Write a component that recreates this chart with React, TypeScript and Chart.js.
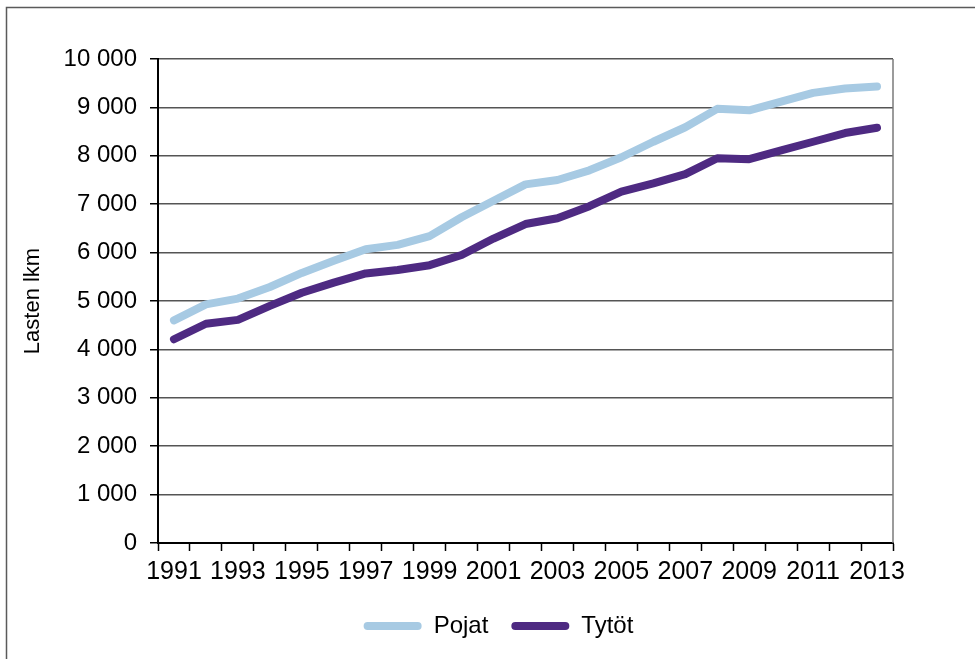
import React, { useEffect, useRef } from "react";
import { Chart, registerables } from "chart.js";

Chart.register(...registerables);

const years = ["1991","1992","1993","1994","1995","1996","1997","1998","1999","2000","2001","2002","2003","2004","2005","2006","2007","2008","2009","2010","2011","2012","2013"];
const pojat = [4600, 4930, 5050, 5290, 5580, 5830, 6070, 6160, 6340, 6730, 7070, 7410, 7500, 7700, 7970, 8290, 8590, 8970, 8940, 9120, 9300, 9390, 9430];
const tytot = [4210, 4530, 4610, 4900, 5170, 5380, 5570, 5640, 5740, 5950, 6290, 6590, 6710, 6960, 7260, 7430, 7620, 7950, 7930, 8110, 8290, 8470, 8580];
const seriesNames = ["Pojat", "Tytöt"];
const yAxisTitle = "Lasten lkm";

const FONT = "'Liberation Sans', Arial, sans-serif";
const COL_POJAT = "#A7CAE3";
const COL_TYTOT = "#4E2A82";

const fmt = (v: number) => String(v).replace(/\B(?=(\d{3})+(?!\d))/g, " ");

const framePlugin = {
  id: "frame",
  afterLayout(chart: any) {
    const lg = chart.legend;
    if (lg) {
      lg.left += 52;
      lg.right += 52;
    }
  },
  beforeDraw(chart: any) {
    const ctx = chart.ctx;
    ctx.save();
    ctx.fillStyle = "#fff";
    ctx.fillRect(0, 0, chart.width, chart.height);
    ctx.strokeStyle = "#5a5a5a";
    ctx.lineWidth = 1.5;
    ctx.beginPath();
    ctx.moveTo(6.5, chart.height);
    ctx.lineTo(6.5, 7.5);
    ctx.lineTo(chart.width, 7.5);
    ctx.stroke();
    ctx.restore();
  },
  beforeDatasetsDraw(chart: any) {
    const { ctx, chartArea } = chart;
    ctx.save();
    ctx.strokeStyle = "#7a7a7a";
    ctx.lineWidth = 1.5;
    ctx.beginPath();
    ctx.moveTo(chartArea.right, chartArea.top);
    ctx.lineTo(chartArea.right, chartArea.bottom);
    ctx.stroke();
    ctx.restore();
  },
};

export default function App() {
  const ref = useRef<HTMLCanvasElement>(null);
  useEffect(() => {
    if (!ref.current) return;
    const chart = new Chart(ref.current, {
      type: "line",
      data: {
        labels: years,
        datasets: [
          {
            label: seriesNames[0],
            data: pojat,
            borderColor: COL_POJAT,
            backgroundColor: COL_POJAT,
            borderWidth: 8,
            pointRadius: 0,
            tension: 0,
            borderCapStyle: "round",
            borderJoinStyle: "round",
          },
          {
            label: seriesNames[1],
            data: tytot,
            borderColor: COL_TYTOT,
            backgroundColor: COL_TYTOT,
            borderWidth: 8,
            pointRadius: 0,
            tension: 0,
            borderCapStyle: "round",
            borderJoinStyle: "round",
          },
        ],
      },
      options: {
        responsive: false,
        animation: false,
        layout: { padding: { left: 0, right: 82, top: 59, bottom: 11 } },
        plugins: {
          tooltip: { enabled: false },
          legend: {
            position: "bottom",
            labels: {
              font: { family: FONT, size: 24 },
              color: "#000",
              boxWidth: 58,
              boxHeight: 8,
              useBorderRadius: true,
              borderRadius: 4,
              padding: 23,
              generateLabels: (c: any) =>
                c.data.datasets.map((d: any, i: number) => ({
                  text: d.label,
                  fillStyle: d.borderColor,
                  strokeStyle: d.borderColor,
                  lineWidth: 0,
                  borderRadius: 4,
                  datasetIndex: i,
                  hidden: false,
                  fontColor: "#000",
                })),
            },
          },
        },
        scales: {
          x: {
            offset: true,
            grid: {
              offset: true,
              drawOnChartArea: false,
              tickLength: 8,
              tickColor: "#000",
              tickWidth: 1.5,
            },
            border: { color: "#000", width: 2 },
            ticks: {
              autoSkip: false,
              maxRotation: 0,
              padding: 6,
              color: "#000",
              font: { family: FONT, size: 25 },
              callback: (_v: any, i: number) => (i % 2 === 0 ? years[i] : ""),
            },
            afterFit: (s: any) => {
              s.height = 48;
            },
          },
          y: {
            min: 0,
            max: 10000,
            grid: {
              color: "#555",
              lineWidth: 1.5,
              tickLength: 8,
              tickColor: "#000",
              tickWidth: 1.5,
            },
            border: { color: "#000", width: 2 },
            ticks: {
              stepSize: 1000,
              padding: 13,
              color: "#000",
              font: { family: FONT, size: 24 },
              callback: (v: any) => fmt(Number(v)),
            },
            title: {
              display: true,
              text: yAxisTitle,
              color: "#000",
              font: { family: FONT, size: 22 },
              padding: { top: 20, bottom: 0 },
            },
            afterFit: (s: any) => {
              s.width = 158;
            },
          },
        },
      },
      plugins: [framePlugin],
    });
    return () => chart.destroy();
  }, []);
  return (
    <div style={{ position: "absolute", left: 0, top: 0, width: 975, height: 659 }}>
      <canvas ref={ref} width={975} height={659} style={{ display: "block" }} />
    </div>
  );
}
